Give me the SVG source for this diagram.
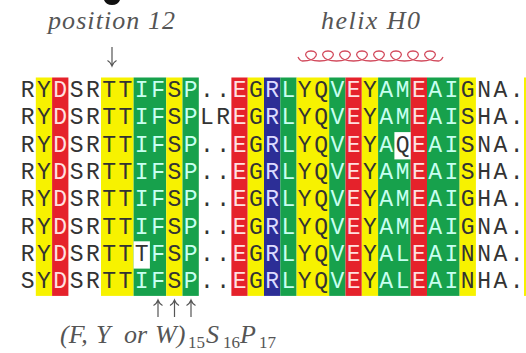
<svg xmlns="http://www.w3.org/2000/svg" width="526" height="353" viewBox="0 0 526 353">
<style>
.seq{font-family:"Liberation Mono","DejaVu Sans Mono",monospace;font-size:23px;fill:#333;text-anchor:middle}
.r{fill:#ffe0e0}.g{fill:#c8fff0}.b{fill:#dcdcff}
.ann{font-family:"Liberation Serif","DejaVu Serif",serif;font-style:italic;font-size:26px;fill:#555}
.sub{font-style:normal;font-size:17px}
.cy{fill:#f7f200}.cr{fill:#e5222b}.cg{fill:#17a14c}.cb{fill:#2c2e96}
.arr{fill:none;stroke:#555;stroke-width:1.2}
</style>
<rect width="526" height="353" fill="#fff"/>
<path d="M104,0 Q106,5 112,5 Q118,5 120,0 Z" fill="#111"/>
<g id="columns">
<rect class="cy" x="35.8" y="77.5" width="16.3" height="218.4"/>
<rect class="cr" x="52.1" y="77.5" width="16.3" height="218.4"/>
<rect class="cy" x="101" y="77.5" width="32.6" height="218.4"/>
<rect class="cg" x="133.6" y="77.5" width="32.6" height="218.4"/>
<rect class="cy" x="166.2" y="77.5" width="16.3" height="218.4"/>
<rect class="cg" x="182.5" y="77.5" width="16.3" height="218.4"/>
<rect class="cr" x="231.4" y="77.5" width="16.3" height="218.4"/>
<rect class="cy" x="247.7" y="77.5" width="16.3" height="218.4"/>
<rect class="cb" x="264" y="77.5" width="16.3" height="218.4"/>
<rect class="cg" x="280.3" y="77.5" width="16.3" height="218.4"/>
<rect class="cy" x="296.6" y="77.5" width="32.6" height="218.4"/>
<rect class="cg" x="329.2" y="77.5" width="16.3" height="218.4"/>
<rect class="cr" x="345.5" y="77.5" width="16.3" height="218.4"/>
<rect class="cy" x="361.8" y="77.5" width="16.3" height="218.4"/>
<rect class="cg" x="378.1" y="77.5" width="32.6" height="218.4"/>
<rect class="cr" x="410.7" y="77.5" width="16.3" height="218.4"/>
<rect class="cg" x="427" y="77.5" width="32.6" height="218.4"/>
<rect class="cy" x="459.6" y="77.5" width="16.3" height="218.4"/>
<rect class="cy" x="524" y="77.5" width="2" height="218.4"/>
<rect fill="#fff" x="133.6" y="241.3" width="16.3" height="27.3"/>
<rect fill="#fff" x="394.4" y="132.1" width="16.3" height="27.3"/>
</g>
<g id="sequences">
<text class="seq" y="97" x="27.65 43.95 60.25 76.55 92.85 109.15 125.45 141.75 158.05 174.35 190.65 206.95 223.25 239.55 255.85 272.15 288.45 304.75 321.05 337.35 353.65 369.95 386.25 402.55 418.85 435.15 451.45 467.75 484.05 500.35 516.65">RY<tspan class="r">D</tspan>SRTT<tspan class="g">IF</tspan>S<tspan class="g">P</tspan>..<tspan class="r">E</tspan>G<tspan class="b">R</tspan><tspan class="g">L</tspan>YQ<tspan class="g">V</tspan><tspan class="r">E</tspan>Y<tspan class="g">AM</tspan><tspan class="r">E</tspan><tspan class="g">AI</tspan>GNA.</text>
<text class="seq" y="124.3" x="27.65 43.95 60.25 76.55 92.85 109.15 125.45 141.75 158.05 174.35 190.65 206.95 223.25 239.55 255.85 272.15 288.45 304.75 321.05 337.35 353.65 369.95 386.25 402.55 418.85 435.15 451.45 467.75 484.05 500.35 516.65">RY<tspan class="r">D</tspan>SRTT<tspan class="g">IF</tspan>S<tspan class="g">P</tspan>LR<tspan class="r">E</tspan>G<tspan class="b">R</tspan><tspan class="g">L</tspan>YQ<tspan class="g">V</tspan><tspan class="r">E</tspan>Y<tspan class="g">AM</tspan><tspan class="r">E</tspan><tspan class="g">AI</tspan>SHA.</text>
<text class="seq" y="151.6" x="27.65 43.95 60.25 76.55 92.85 109.15 125.45 141.75 158.05 174.35 190.65 206.95 223.25 239.55 255.85 272.15 288.45 304.75 321.05 337.35 353.65 369.95 386.25 402.55 418.85 435.15 451.45 467.75 484.05 500.35 516.65">RY<tspan class="r">D</tspan>SRTT<tspan class="g">IF</tspan>S<tspan class="g">P</tspan>..<tspan class="r">E</tspan>G<tspan class="b">R</tspan><tspan class="g">L</tspan>YQ<tspan class="g">V</tspan><tspan class="r">E</tspan>Y<tspan class="g">A</tspan>Q<tspan class="r">E</tspan><tspan class="g">AI</tspan>SNA.</text>
<text class="seq" y="178.9" x="27.65 43.95 60.25 76.55 92.85 109.15 125.45 141.75 158.05 174.35 190.65 206.95 223.25 239.55 255.85 272.15 288.45 304.75 321.05 337.35 353.65 369.95 386.25 402.55 418.85 435.15 451.45 467.75 484.05 500.35 516.65">RY<tspan class="r">D</tspan>SRTT<tspan class="g">IF</tspan>S<tspan class="g">P</tspan>..<tspan class="r">E</tspan>G<tspan class="b">R</tspan><tspan class="g">L</tspan>YQ<tspan class="g">V</tspan><tspan class="r">E</tspan>Y<tspan class="g">AM</tspan><tspan class="r">E</tspan><tspan class="g">AI</tspan>SHA.</text>
<text class="seq" y="206.2" x="27.65 43.95 60.25 76.55 92.85 109.15 125.45 141.75 158.05 174.35 190.65 206.95 223.25 239.55 255.85 272.15 288.45 304.75 321.05 337.35 353.65 369.95 386.25 402.55 418.85 435.15 451.45 467.75 484.05 500.35 516.65">RY<tspan class="r">D</tspan>SRTT<tspan class="g">IF</tspan>S<tspan class="g">P</tspan>..<tspan class="r">E</tspan>G<tspan class="b">R</tspan><tspan class="g">L</tspan>YQ<tspan class="g">V</tspan><tspan class="r">E</tspan>Y<tspan class="g">AM</tspan><tspan class="r">E</tspan><tspan class="g">AI</tspan>GHA.</text>
<text class="seq" y="233.5" x="27.65 43.95 60.25 76.55 92.85 109.15 125.45 141.75 158.05 174.35 190.65 206.95 223.25 239.55 255.85 272.15 288.45 304.75 321.05 337.35 353.65 369.95 386.25 402.55 418.85 435.15 451.45 467.75 484.05 500.35 516.65">RY<tspan class="r">D</tspan>SRTT<tspan class="g">IF</tspan>S<tspan class="g">P</tspan>..<tspan class="r">E</tspan>G<tspan class="b">R</tspan><tspan class="g">L</tspan>YQ<tspan class="g">V</tspan><tspan class="r">E</tspan>Y<tspan class="g">AM</tspan><tspan class="r">E</tspan><tspan class="g">AI</tspan>GNA.</text>
<text class="seq" y="260.8" x="27.65 43.95 60.25 76.55 92.85 109.15 125.45 141.75 158.05 174.35 190.65 206.95 223.25 239.55 255.85 272.15 288.45 304.75 321.05 337.35 353.65 369.95 386.25 402.55 418.85 435.15 451.45 467.75 484.05 500.35 516.65">RY<tspan class="r">D</tspan>SRTTT<tspan class="g">F</tspan>S<tspan class="g">P</tspan>..<tspan class="r">E</tspan>G<tspan class="b">R</tspan><tspan class="g">L</tspan>YQ<tspan class="g">V</tspan><tspan class="r">E</tspan>Y<tspan class="g">AL</tspan><tspan class="r">E</tspan><tspan class="g">AI</tspan>NNA.</text>
<text class="seq" y="288.1" x="27.65 43.95 60.25 76.55 92.85 109.15 125.45 141.75 158.05 174.35 190.65 206.95 223.25 239.55 255.85 272.15 288.45 304.75 321.05 337.35 353.65 369.95 386.25 402.55 418.85 435.15 451.45 467.75 484.05 500.35 516.65">SY<tspan class="r">D</tspan>SRTT<tspan class="g">IF</tspan>S<tspan class="g">P</tspan>..<tspan class="r">E</tspan>G<tspan class="b">R</tspan><tspan class="g">L</tspan>YQ<tspan class="g">V</tspan><tspan class="r">E</tspan>Y<tspan class="g">AL</tspan><tspan class="r">E</tspan><tspan class="g">AI</tspan>NHA.</text>
</g>
<g id="annotations">
<text class="ann" x="48" y="29" textLength="127" lengthAdjust="spacing">position 12</text>
<text class="ann" x="321" y="29" textLength="99" lengthAdjust="spacing">helix H0</text>
<path d="M298,57 Q300,61 302.5,61 C318,61 320,51 311,51 C302,51 304,61 319.5,61 C335,61 337,51 328,51 C319,51 321,61 336.5,61 C352,61 354,51 345,51 C336,51 338,61 353.5,61 C369,61 371,51 362,51 C353,51 355,61 370.5,61 C386,61 388,51 379,51 C370,51 372,61 387.5,61 C403,61 405,51 396,51 C387,51 389,61 404.5,61 C420,61 422,51 413,51 C404,51 406,61 421.5,61 C437,61 439,51 430,51 C421,51 423,61 438.5,61 Q441,61 443,57" fill="none" stroke="#d24a5c" stroke-width="1.3"/>
<text class="ann" y="343"><tspan x="60">(F,</tspan><tspan x="96">Y</tspan> <tspan x="124">or</tspan> <tspan x="155">W)</tspan><tspan class="sub" x="188" y="348">15</tspan><tspan x="206" y="343">S</tspan><tspan class="sub" x="223" y="348">16</tspan><tspan x="240" y="343">P</tspan><tspan class="sub" x="259" y="348">17</tspan></text>
</g>
<g id="connectors">
<path class="arr" d="M112,47 V66 M107.5,60.5 Q110.5,62 112,66 Q113.5,62 116.5,60.5"/>
<path class="arr" d="M158,317 V300 M153.5,305.5 Q156.5,304 158,300 Q159.5,304 162.5,305.5"/>
<path class="arr" d="M174.5,317 V300 M170,305.5 Q173,304 174.5,300 Q176,304 179,305.5"/>
<path class="arr" d="M191,317 V300 M186.5,305.5 Q189.5,304 191,300 Q192.5,304 195.5,305.5"/>
</g>
</svg>
